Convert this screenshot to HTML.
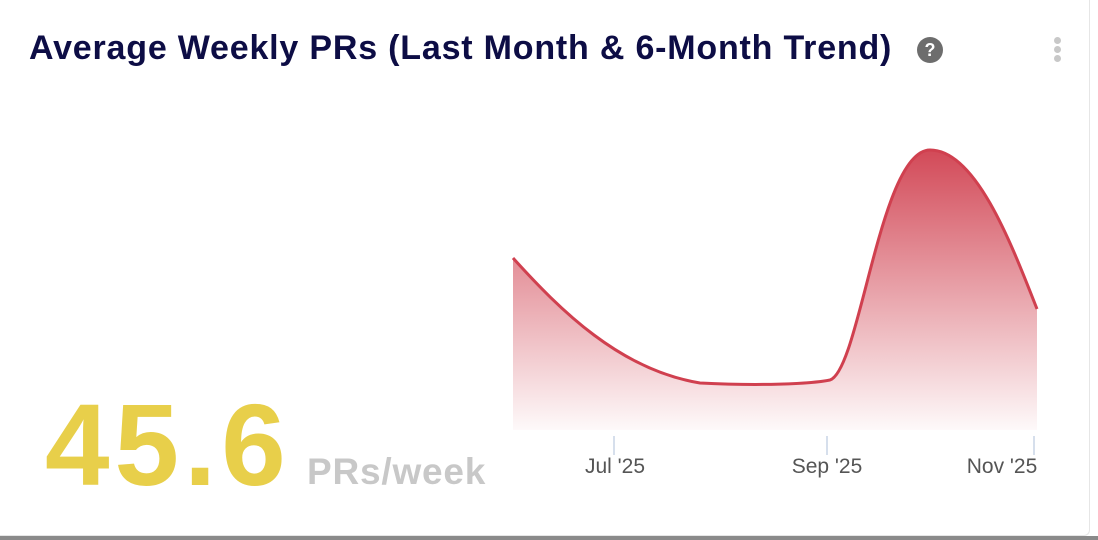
<!DOCTYPE html>
<html><head><style>
body{margin:0;width:1098px;height:540px;background:#fff;overflow:hidden;font-family:"Liberation Sans",sans-serif;position:relative}
.card{position:absolute;left:0;top:0;width:1089px;height:535px;border:1px solid #e6e6e6;border-left:none;border-top:none;border-radius:0 0 6px 0;background:#fff}
.bar{position:absolute;left:0;top:536px;width:1098px;height:4px;background:#8a8a8a}
h1{position:absolute;left:29px;top:29px;margin:0;font-size:34px;font-weight:bold;color:#0d0d45;letter-spacing:0.8px;white-space:nowrap}
.q{position:absolute;left:917px;top:37px;width:26px;height:26px;border-radius:50%;background:#6d6d6d;color:#fff;font-size:18px;font-weight:bold;text-align:center;line-height:26px}
.dot{position:absolute;left:1054px;width:7px;height:7px;border-radius:50%;background:#c8c8c8}
.big{position:absolute;left:45px;top:378px;font-size:116px;font-weight:bold;color:#e8cf4a;letter-spacing:5px}
.unit{position:absolute;left:307px;top:451px;font-size:37px;font-weight:bold;color:#c8c8c8;letter-spacing:0.8px}
.lab{position:absolute;top:455px;font-size:21px;color:#555;width:120px;text-align:center}
</style></head><body>
<div class="card"></div><div class="bar"></div>
<h1>Average Weekly PRs (Last Month &amp; 6-Month Trend)</h1>
<div class="q">?</div>
<div class="dot" style="top:37px"></div><div class="dot" style="top:46px"></div><div class="dot" style="top:55px"></div>
<svg width="1098" height="540" style="position:absolute;left:0;top:0">
<defs><linearGradient id="g" x1="0" y1="150" x2="0" y2="430" gradientUnits="userSpaceOnUse">
<stop offset="0" stop-color="#d0404f" stop-opacity="0.95"/><stop offset="1" stop-color="#d0404f" stop-opacity="0.03"/></linearGradient></defs>
<path d="M513,258 C560,310 620,370 700,383 C760,386 810,384 830,380 C860,370 880,150 930,150 C975,150 1010,240 1037,309 L1037,430 L513,430 Z" fill="url(#g)"/>
<path d="M513,258 C560,310 620,370 700,383 C760,386 810,384 830,380 C860,370 880,150 930,150 C975,150 1010,240 1037,309" fill="none" stroke="#d0404f" stroke-width="3"/>
<g stroke="#c8d4e6" stroke-width="1.5"><line x1="614" y1="436" x2="614" y2="455"/><line x1="827" y1="436" x2="827" y2="455"/><line x1="1034" y1="436" x2="1034" y2="455"/></g>
</svg>
<div class="big">45.6</div>
<div class="unit">PRs/week</div>
<div class="lab" style="left:555px">Jul '25</div>
<div class="lab" style="left:767px">Sep '25</div>
<div class="lab" style="left:942px">Nov '25</div>
</body></html>
